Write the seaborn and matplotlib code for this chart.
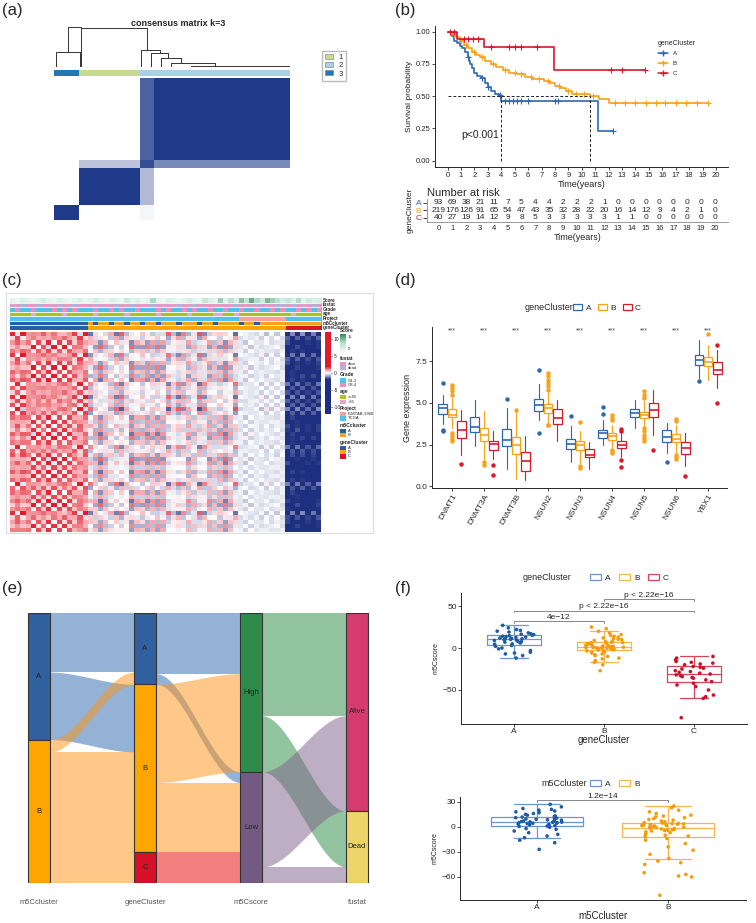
import numpy as np
import pandas as pd
import matplotlib
matplotlib.use('Agg')
import matplotlib.pyplot as plt
import seaborn as sns
from matplotlib.colors import LinearSegmentedColormap, ListedColormap, to_rgb
from matplotlib.patches import Patch, Rectangle
from matplotlib.lines import Line2D

# ---------------- (a) consensus matrix k=3 ----------------
# column order: cluster 3, cluster 1, mixed samples, cluster 2
cons_sizes = [38, 90, 21, 203]
cons_col_groups = [3, 1, 2, 2]
# rows listed top to bottom: cluster 2, mixed, cluster 1, cluster 3
cons_blocks = [
    [0.00, 0.00, 0.80, 1.00],
    [0.00, 0.30, 0.90, 0.60],
    [0.00, 1.00, 0.35, 0.00],
    [1.00, 0.00, 0.05, 0.00],
]
# dendrogram links: (x left, h left, x right, h right, merge height), x in samples
dendro_links = [
    (2.5, 0.0, 38.3, 0.0, 0.37),
    (205, 0.0, 352, 0.0, 0.02),
    (175, 0.0, 240, 0.02, 0.10),
    (160, 0.0, 190, 0.10, 0.21),
    (145, 0.0, 170, 0.21, 0.35),
    (130.5, 0.0, 158, 0.35, 0.42),
    (40.8, 0.0, 138, 0.42, 0.96),
    (20.4, 0.37, 40.8, 0.96, 1.00),
]

# ---------------- (b) Kaplan-Meier ----------------
km_time = {
    'A': [0, 0.3, 0.5, 0.7, 0.9, 1.1, 1.3, 1.5, 1.6, 1.7, 1.8, 2.0, 2.2, 2.5, 2.8, 3.0, 3.2, 3.5, 3.8, 4.0, 11.2, 12.3],
    'B': [0, 0.3, 0.6, 0.9, 1.2, 1.5, 1.8, 2.1, 2.4, 2.8, 3.2, 3.6, 4.1, 4.6, 5.2, 5.8, 6.3, 7.2, 7.6, 8.0, 8.4, 8.8, 9.3, 10.6, 11.3, 12.0, 19.4],
    'C': [0, 0.7, 2.7, 7.9, 14.7],
}
km_surv = {
    'A': [1.0, 0.97, 0.93, 0.91, 0.89, 0.87, 0.84, 0.80, 0.77, 0.75, 0.72, 0.68, 0.66, 0.64, 0.60, 0.57, 0.54, 0.52, 0.51, 0.465, 0.232, 0.232],
    'B': [1.0, 0.98, 0.96, 0.93, 0.90, 0.87, 0.84, 0.82, 0.80, 0.77, 0.75, 0.73, 0.70, 0.68, 0.67, 0.65, 0.63, 0.62, 0.60, 0.58, 0.56, 0.54, 0.52, 0.50, 0.48, 0.45, 0.45],
    'C': [1.0, 0.94, 0.88, 0.705, 0.705],
}
km_censor = {
    'A': [1.5, 2.6, 3.0, 3.9, 4.3, 4.6, 4.9, 5.2, 5.5, 6.0, 8.0, 8.2, 12.3],
    'B': [0.5, 1.0, 1.4, 2.0, 2.6, 3.4, 4.3, 5.0, 5.5, 6.2, 6.8, 7.5, 8.3, 9.0, 9.6, 10.2, 10.8,
          12.5, 13.2, 14.0, 14.8, 15.5, 16.2, 17.0, 17.8, 18.6, 19.4],
    'C': [0.2, 0.5, 1.2, 1.5, 1.9, 2.3, 3.2, 4.6, 5.0, 5.5, 6.7, 12.2, 13.0, 14.7],
}
risk_A = [93, 69, 38, 21, 11, 7, 5, 4, 4, 2, 2, 2, 1, 0, 0, 0, 0, 0, 0, 0, 0]
risk_B = [219, 176, 126, 91, 65, 54, 47, 43, 35, 32, 28, 22, 20, 16, 14, 12, 9, 4, 2, 1, 0]
risk_C = [40, 27, 19, 14, 12, 9, 8, 5, 3, 3, 3, 3, 3, 1, 1, 0, 0, 0, 0, 0, 0]

# ---------------- (c) expression heatmap ----------------
# 60 sample columns: geneCluster A 0-14, B 15-52 (pale part 44-52), C 53-59
seg_sizes = [15, 29, 9, 7]
seg_level = [0.9, 0.0, -0.2, -2.0]
seg_amp = [1.6, 1.7, 0.5, 1.2]
col_prof = [0.8, -0.6, 1.0, 0.3, -0.9, 0.7, -0.2, 0.9, -0.7, 0.5, -1.0, 0.6, 0.2, -0.8, 0.9,
            -0.5, 0.8, -0.9, 0.4, 0.7, -0.6, 1.0, -0.3, -0.8, 0.6, 0.9, -0.7, 0.3, -1.0, 0.5,
            0.8, -0.4, -0.9, 0.7, 0.2, -0.6, 1.0, -0.8, 0.4, -0.3, 0.9, -0.7, 0.6, -0.9,
            0.5, -0.8, 0.7, -0.4, 0.9, -0.6, 0.3, -0.9, 0.6,
            -0.7, 0.9, -1.0, 0.8, -0.5, 0.6, -0.8]
row_prof = [0.9, -0.7, 0.4, -1.0, 0.6, 0.8, -0.5, 0.3, -0.9, 0.7,
            -0.4, 1.0, -0.8, 0.5, -0.6, 0.9, -0.3, 0.7, -1.0, 0.4,
            0.8, -0.6, 0.2, -0.9, 1.0, -0.5, 0.6, -0.7, 0.3, 0.9,
            -0.8, 0.5, -0.4, 1.0, -0.6, 0.7, -0.9, 0.2, 0.8, -0.5,
            0.6, -1.0, 0.4, 0.9, -0.7, 0.3, -0.8, 0.6]
ann_score = [2, 1, 3, 2, 1, 2, 4, 2, 1, 3, 2, 1, 2, 3, 1,
             2, 4, 2, 1, 3, 2, 1, 5, 2, 3, 1, 2, 8, 2, 1, 3, 2, 1, 2, 4, 2, 1, 6, 3, 2, 9, 2, 7, 3,
             10, 6, 12, 8, 5, 11, 9, 7, 4,
             6, 3, 8, 2, 5, 3, 4]
ann_fustat = "lldlldllld lldllldlll dlldllldll lldlldllll llldllldll lddldllldl"
ann_grade = "1311311131 3131113113 1311311131 3113131131 1311311311 3131131313"
ann_age = "yyyyoyyyyy oyyyyyoyyy yyoyyyyyoy yyyyoyyyyo oyyoyyyyyy yyyyoyyyyy"
ann_project = "tttttttttt tttttttttt tttttttttt tttttttttt ttttEEEEEE EEEttttttt"
ann_m5c = "aaaaaaaaaa aaaaababba bbabbabbab bbabbbabba bbbbabbabb bbbbbbbbbb"
ann_gene = "AAAAAAAAAA AAAAABBBBB BBBBBBBBBB BBBBBBBBBB BBBBBBBBBB BBBCCCCCCC"

# ---------------- (d) m5C regulator expression ----------------
genes = ['DNMT1', 'DNMT3A', 'DNMT3B', 'NSUN2', 'NSUN3', 'NSUN4', 'NSUN5', 'NSUN6', 'YBX1']
expr_med = {'A': [4.67, 3.58, 2.80, 4.90, 2.55, 3.20, 4.42, 2.95, 7.60],
            'B': [4.30, 3.05, 2.45, 4.72, 2.45, 3.00, 4.25, 2.85, 7.45],
            'C': [3.40, 2.55, 1.50, 4.12, 1.90, 2.50, 4.60, 2.30, 7.00]}
expr_q1 = {'A': [4.34, 3.26, 2.43, 4.54, 2.25, 2.92, 4.14, 2.65, 7.26],
           'B': [4.18, 2.73, 1.95, 4.42, 2.15, 2.78, 4.08, 2.63, 7.20],
           'C': [2.88, 2.15, 0.90, 3.72, 1.73, 2.29, 4.14, 1.95, 6.76]}
expr_q3 = {'A': [4.91, 4.18, 3.42, 5.23, 2.85, 3.38, 4.64, 3.38, 7.90],
           'B': [4.61, 3.48, 2.98, 4.91, 2.73, 3.18, 4.48, 3.14, 7.76],
           'C': [3.92, 2.69, 2.03, 4.61, 2.25, 2.69, 4.97, 2.63, 7.46]}
expr_lo = {'A': [3.74, 2.40, 1.05, 4.00, 1.45, 2.45, 3.50, 2.00, 6.50],
           'B': [3.50, 1.60, 0.45, 3.80, 1.40, 2.30, 3.60, 2.00, 6.40],
           'C': [1.85, 1.65, 0.35, 2.70, 1.05, 1.75, 3.05, 1.20, 5.90]}
expr_hi = {'A': [5.47, 5.15, 4.70, 6.15, 3.60, 4.00, 5.15, 3.80, 8.75],
           'B': [5.30, 4.50, 4.50, 5.60, 3.30, 3.70, 5.10, 3.70, 8.45],
           'C': [4.60, 3.30, 3.00, 5.20, 2.65, 3.20, 5.75, 3.20, 8.15]}
expr_fliers = {
    'A': [[6.2, 3.4, 3.3], [], [5.25], [6.95, 3.2], [4.2], [4.75, 4.35], [], [1.45], [6.3]],
    'B': [[6.05, 5.9, 5.7, 5.5, 3.2, 3.0, 2.85, 2.7], [1.45, 1.3], [4.6],
          [6.8, 6.6, 6.4, 6.2, 6.0, 5.8, 3.7, 3.65], [3.85, 1.2, 1.1], [4.25, 4.1, 3.95, 2.2, 2.1, 2.0],
          [5.7, 5.5, 5.3, 3.5, 3.3, 3.1, 2.9, 2.7], [4.05, 3.9, 1.9, 1.75, 1.65], [9.15]],
    'C': [[1.35], [1.3, 0.7], [], [], [], [3.45, 3.3, 1.55, 1.15], [2.15], [0.6], [8.5, 5.0]],
}

# ---------------- (e) alluvial counts ----------------
m5c_levels = ['A', 'B']
gene_levels = ['A', 'B', 'C']
score_levels = ['High', 'Low']
fustat_levels = ['Alive', 'Dead']
flow_m5c_gene = [[77, 88, 0], [16, 131, 40]]
flow_gene_score = [[79, 14], [128, 91], [0, 40]]
flow_score_fustat = [[134, 73], [124, 21]]

# ---------------- (f) m5Cscore ----------------
score_geneA = [-12, -9, -7, -6, -5, -3, -1, 0, 2, 3, 4.5, 5, 6, 7, 7.5, 8, 9, 9.5, 10, 10.3,
               10.8, 11, 11.5, 12, 12.5, 13, 13.5, 14, 14.5, 15.2, 16, 16.5, 17, 18, 19, 20, 21, 22, 24, 27]
score_geneB = [-27, -20, -17, -15, -13, -12, -10, -9, -8, -7, -6, -5, -4.5, -3.5, -3,
               -2.5, -2, -1.8, -1.5, -1, -0.8, -0.5, -0.2, 0, 0.2, 0.4, 0.6, 0.8, 1.0, 1.1,
               1.3, 1.6, 2, 2.4, 2.8, 3.2, 3.6, 4, 4.5, 5, 5.4, 5.8, 6.2, 6.5, 6.8,
               7.5, 8, 9, 10, 10.5, 11, 12, 13, 14, 15, 16, 18, 20, 23, 25]
score_geneC = [-83, -60, -58, -56, -50, -46, -44, -42, -40, -38, -36, -35, -34, -33, -32, -31,
               -30, -29, -28, -27, -25, -24, -23, -22, -20, -19, -18, -17, -16, -14, -12, -10]
score_m5cA = [-27, -19, -16, -13, -11, -9, -7, -5, -3, -2, -0.5, 0.5,
              1, 1.5, 2, 2.5, 3, 3.5, 4, 4.3, 4.6, 5, 5.2, 5.5, 5.7,
              6, 6.5, 7, 7.5, 8, 8.5, 9, 9.5, 10, 10.5, 11, 11.8, 12.5,
              13, 14, 15, 16, 17, 18, 19, 20, 21, 22, 24, 27]
score_m5cB = [-82, -60, -59, -57, -55, -45, -43, -41, -38, -33, -28, -24, -20, -16, -14,
              -12, -11, -10, -9, -8, -7, -6, -5, -4.5, -4, -3.5, -3, -2.5, -2, -1.5,
              -1, -0.5, 0, 0.5, 1, 1.3, 1.6, 2, 2.4, 2.8, 3.2, 3.6, 4, 4.2, 4.5,
              5, 6, 7, 8, 9, 10, 11, 12, 13, 14, 16, 18, 20, 23, 25]

# ---------------- styling ----------------
W, H = 756, 923
sns.set_theme(style='ticks')
plt.rcParams['font.family'] = ['Liberation Sans', 'DejaVu Sans']
plt.rcParams['axes.linewidth'] = 0.7
plt.rcParams['xtick.major.width'] = 0.6
plt.rcParams['ytick.major.width'] = 0.6
plt.rcParams['xtick.major.size'] = 2
plt.rcParams['ytick.major.size'] = 2

clu_col = {'A': '#2E67B1', 'B': '#F8A21B', 'C': '#D7192B'}


def fbox(l, t, r, b):
    # pixel box -> figure fraction rect
    return [l / W, 1 - b / H, (r - l) / W, (b - t) / H]


def fy(y):
    return 1 - y / H


fig = plt.figure(figsize=(W / 100, H / 100), dpi=100)
for lab, x, y in [('(a)', 2, 11), ('(b)', 395, 11), ('(c)', 2, 281), ('(d)', 395, 281),
                  ('(e)', 2, 588), ('(f)', 395, 588)]:
    fig.text(x / W, fy(y), lab, fontsize=12, va='center', ha='left')

# ================= (a) =================
cons_cmap = LinearSegmentedColormap.from_list('cons', ['#FFFFFF', '#1F3A88'])
ax = fig.add_axes(fbox(54, 78, 290, 220))
mat = np.repeat(np.repeat(np.array(cons_blocks), cons_sizes[::-1], axis=0), cons_sizes, axis=1)
sns.heatmap(mat, ax=ax, cmap=cons_cmap, vmin=0, vmax=1, cbar=False,
            xticklabels=False, yticklabels=False, rasterized=True)

k_colors = ['#C6DB8E', '#A9D0E6', '#1F78B4']
ax = fig.add_axes(fbox(54, 70, 290, 76))
groups = np.repeat(cons_col_groups, cons_sizes)[None, :]
sns.heatmap(groups, ax=ax, cmap=ListedColormap(k_colors), vmin=0.5, vmax=3.5, cbar=False,
            xticklabels=False, yticklabels=False)

ax = fig.add_axes(fbox(54, 26.7, 290, 66.7))
for xl, hl, xr, hr, h in dendro_links:
    ax.plot([xl, xl, xr, xr], [hl, h, h, hr], color='#333333', lw=0.7)
ax.set_xlim(0, sum(cons_sizes))
ax.set_ylim(0, 1.0)
ax.axis('off')
fig.text(178 / W, fy(24), 'consensus matrix k=3', fontsize=6.5, fontweight='bold',
         ha='center', va='center')
fig.legend([Patch(facecolor=c, edgecolor='#777777', lw=0.4) for c in k_colors], ['1', '2', '3'],
           loc='upper left', bbox_to_anchor=(318 / W, fy(47)), fontsize=5.5, frameon=True,
           fancybox=False, edgecolor='#AAAAAA', handlelength=1.0, handleheight=0.6,
           labelspacing=0.15, borderpad=0.4, handletextpad=0.8)

# ================= (b) =================
ax = fig.add_axes(fbox(435, 26, 728, 167))
med_times = []
for cl in ['A', 'B', 'C']:
    t = np.array(km_time[cl])
    s = np.array(km_surv[cl])
    ax.step(t, s, where='post', color=clu_col[cl], lw=1.2)
    ct = np.array(km_censor[cl])
    cs = s[np.searchsorted(t, ct, side='right') - 1]
    ax.plot(ct, cs, ls='none', marker='+', ms=4, mew=0.8, color=clu_col[cl])
    if (s <= 0.5).any():
        med_times.append(t[np.argmax(s <= 0.5)])
ax.plot([0, max(med_times)], [0.5, 0.5], ls=(0, (3, 2)), color='#222222', lw=0.7)
for mt in med_times:
    ax.plot([mt, mt], [0, 0.5], ls=(0, (3, 2)), color='#222222', lw=0.7)
ax.text(1.0, 0.2, 'p<0.001', fontsize=7.5, va='center')
ax.set_xlim(-0.94, 20.9)
ax.set_ylim(-0.049, 1.044)
ax.set_xticks(range(0, 21))
ax.set_yticks([0, 0.25, 0.5, 0.75, 1.0])
ax.set_yticklabels(['0.00', '0.25', '0.50', '0.75', '1.00'])
ax.tick_params(labelsize=5.5, pad=1.5)
ax.set_xlabel('Time(years)', fontsize=6.5, labelpad=1)
ax.set_ylabel('Survival probability', fontsize=6, labelpad=2)
sns.despine(ax=ax)
handles = [Line2D([], [], color=clu_col[c], marker='+', ms=4, lw=1.1) for c in 'ABC']
leg = ax.legend(handles, ['A', 'B', 'C'], title='geneCluster', loc='upper left',
                bbox_to_anchor=(652 / W, fy(34)), bbox_transform=fig.transFigure,
                fontsize=4.5, title_fontsize=5, frameon=False, handlelength=1.6,
                labelspacing=0.7, alignment='left')

ax = fig.add_axes(fbox(427, 199, 728, 222))
for row, vals in enumerate([risk_A, risk_B, risk_C]):
    for t, n in enumerate(vals):
        ax.text(t, row, str(n), ha='center', va='center', fontsize=6)
ax.set_xlim(-0.85, 20.97)
ax.set_ylim(2.55, -0.5)
ax.set_yticks([0, 1, 2])
ax.set_yticklabels(['A', 'B', 'C'])
for tl, c in zip(ax.get_yticklabels(), 'ABC'):
    tl.set_color(clu_col[c])
ax.set_xticks(range(0, 21))
ax.tick_params(axis='x', labelsize=5.5, length=0, pad=2)
ax.tick_params(axis='y', labelsize=6, length=3, pad=1)
ax.set_xlabel('Time(years)', fontsize=6.5, labelpad=1)
ax.set_ylabel('geneCluster', fontsize=6, labelpad=1)
for sp in ['top', 'right']:
    ax.spines[sp].set_visible(False)
for sp in ['left', 'bottom']:
    ax.spines[sp].set_color('#999999')
fig.text(427 / W, fy(193), 'Number at risk', fontsize=8, va='center')

# ================= (c) =================
frame = fig.add_axes(fbox(6, 293, 373, 533))
frame.set_xticks([])
frame.set_yticks([])
for sp in frame.spines.values():
    sp.set_color('#DDDDDD')
    sp.set_linewidth(0.8)
frame.set_zorder(-5)

heat_cmap = LinearSegmentedColormap.from_list(
    'heat', [(0, '#1E2F7F'), (0.42, '#1E2F7F'), (0.5, '#FFFFFF'), (0.58, '#E31A2B'), (1, '#E31A2B')])
col_level = np.repeat(seg_level, seg_sizes)
col_amp = np.repeat(seg_amp, seg_sizes)
texture = 0.5 * (np.outer(row_prof, col_prof)
                 + np.outer(np.roll(row_prof, 7), np.roll(col_prof, 13)))
heat = col_level[None, :] + col_amp[None, :] * texture
ax = fig.add_axes(fbox(10, 332, 321, 532))
cax = fig.add_axes(fbox(325, 332, 331, 414))
sns.heatmap(heat, ax=ax, cmap=heat_cmap, vmin=-12, vmax=12, cbar_ax=cax,
            cbar_kws={'ticks': [10, 5, 0, -5, -10]}, xticklabels=False, yticklabels=False)
cax.tick_params(labelsize=3.5, length=1, pad=1)
cax.set_yticklabels(['10', '5', '0', '-5', '-10'])
for sp in cax.spines.values():
    sp.set_visible(False)

ann_colors = {
    'l': '#E59AC6', 'd': '#B8B0DA',
    '1': '#52C1E9', '3': '#EE8DBB',
    'y': '#A8C41E', 'o': '#E6A5D2',
    't': '#4FC1EA', 'E': '#F4A29A',
    'a': '#2A5DA8', 'b': '#F8A21B',
    'A': '#2A5DA8', 'B': '#FFA500', 'C': '#D7191C',
}
score_cmap = LinearSegmentedColormap.from_list('score', ['#F2FBF8', '#B9E2CF', '#2E8B57'])
ann_rows = [ann_fustat, ann_grade, ann_age, ann_project, ann_m5c, ann_gene]
rgb = np.zeros((7, 60, 3))
rgb[0] = np.array(score_cmap(np.array(ann_score) / 15.0))[:, :3]
for i, s in enumerate(ann_rows):
    rgb[i + 1] = [to_rgb(ann_colors[ch]) for ch in s.replace(' ', '')]
ax = fig.add_axes(fbox(10, 298, 321, 330))
ax.imshow(rgb, aspect='auto', interpolation='nearest')
for i in range(6):
    ax.axhline(i + 0.5, color='white', lw=0.6)
ax.set_xticks([])
ax.set_yticks([])
for sp in ax.spines.values():
    sp.set_visible(False)
for i, name in enumerate(['Score', 'fustat', 'Grade', 'age', 'Project', 'm5Ccluster', 'geneCluster']):
    ax.text(1.006, 1 - (i + 0.5) / 7, name, transform=ax.transAxes, fontsize=3.3,
            fontweight='bold', va='center', ha='left')

# annotation legends
lax = fig.add_axes(fbox(336, 326, 376, 470))
lax.set_xlim(336, 376)
lax.set_ylim(470, 326)
lax.axis('off')
lax.text(340, 331, 'Score', fontsize=3.5, fontweight='bold', va='center')
grad = np.linspace(1, 0, 50)[:, None]
lax.imshow(score_cmap(grad), extent=(340, 346, 352, 334), aspect='auto')
lax.text(348, 337, '15', fontsize=3, va='center')
lax.text(348, 349, '0', fontsize=3, va='center')
c_legends = [('fustat', ['alive', 'dead'], 'ld'), ('Grade', ['G1-2', 'G3-4'], '13'),
             ('age', ['<=65', '>65'], 'yo'), ('Project', ['E-MTAB-1980', 'TCGA'], 'Et'),
             ('m5Ccluster', ['A', 'B'], 'ab'), ('geneCluster', ['A', 'B', 'C'], 'ABC')]
y = 358
for title, labels, keys in c_legends:
    lax.text(340, y, title, fontsize=3.5, fontweight='bold', va='center')
    y += 3.5
    for lab, k in zip(labels, keys):
        lax.add_patch(Rectangle((340, y), 6, 4.2, facecolor=ann_colors[k], edgecolor='none'))
        lax.text(348, y + 2.1, lab, fontsize=3, va='center')
        y += 4.2
    y += 5

# ================= (d) =================
ax = fig.add_axes(fbox(432, 327, 727, 488))
offsets = {'A': -0.29, 'B': 0.0, 'C': 0.29}
for cl in ['A', 'B', 'C']:
    stats = []
    for i in range(len(genes)):
        stats.append({'med': expr_med[cl][i], 'q1': expr_q1[cl][i], 'q3': expr_q3[cl][i],
                      'whislo': expr_lo[cl][i], 'whishi': expr_hi[cl][i],
                      'fliers': expr_fliers[cl][i]})
    c = clu_col[cl]
    ax.bxp(stats, positions=np.arange(len(genes)) + offsets[cl], widths=0.27,
           patch_artist=True, manage_ticks=False,
           boxprops=dict(facecolor='white', edgecolor=c, lw=0.9),
           medianprops=dict(color=c, lw=1.2), whiskerprops=dict(color=c, lw=0.8),
           capprops=dict(lw=0), flierprops=dict(marker='o', ms=2.2, mfc=c, mec=c))
for i in range(len(genes)):
    ax.text(i, 9.3, '***', ha='center', va='center', fontsize=5, color='#444444')
ax.set_xlim(-0.625, 8.59)
ax.set_ylim(-0.1, 9.55)
ax.set_xticks(range(len(genes)))
ax.set_xticklabels(genes, rotation=60, ha='right', rotation_mode='anchor', fontsize=6)
ax.set_yticks([0, 2.5, 5.0, 7.5])
ax.set_yticklabels(['0.0', '2.5', '5.0', '7.5'])
ax.tick_params(labelsize=6, pad=1.5)
ax.tick_params(axis='x', labelsize=6)
ax.set_ylabel('Gene expression', fontsize=6.5, labelpad=2)
sns.despine(ax=ax)
fig.text(525 / W, fy(308), 'geneCluster', fontsize=6.5, va='center')
fig.legend([Patch(facecolor='white', edgecolor=clu_col[c], lw=0.9) for c in 'ABC'], ['A', 'B', 'C'],
           loc='center left', bbox_to_anchor=(573 / W, fy(308)), ncol=3, frameon=False, fontsize=6,
           handlelength=1.1, handleheight=0.8, handletextpad=0.4, columnspacing=0.8,
           borderaxespad=0, borderpad=0)

# ================= (e) =================
ax = fig.add_axes(fbox(20, 613, 376, 883))
total = sum(map(sum, flow_m5c_gene))
ax.set_xlim(-19 / 106, 3 + 19 / 106)
ax.set_ylim(total, 0)
ax.axis('off')
bw = 0.21
strata = [
    (m5c_levels, np.sum(flow_m5c_gene, axis=1), ['#30609E', '#FFA500']),
    (gene_levels, np.sum(flow_m5c_gene, axis=0), ['#30609E', '#FFA500', '#D7102A']),
    (score_levels, np.sum(flow_gene_score, axis=0), ['#2E8B4A', '#735A82']),
    (fustat_levels, np.sum(flow_score_fustat, axis=0), ['#D63B6F', '#EDD46A']),
]
flow_src_colors = [['#2866AE', '#FF9315'], ['#2866AE', '#FF9315', '#E90000'], ['#278D41', '#7F5F89']]
flows = [flow_m5c_gene, flow_gene_score, flow_score_fustat]
tt = np.linspace(0, 1, 60)
ss = 3 * tt ** 2 - 2 * tt ** 3
for k, F in enumerate(flows):
    F = np.array(F)
    src_start = np.concatenate([[0], np.cumsum(F.sum(axis=1))[:-1]])
    dst_start = np.concatenate([[0], np.cumsum(F.sum(axis=0))[:-1]])
    src_off = src_start.astype(float).copy()
    dst_off = dst_start.astype(float).copy()
    x0, x1 = k + bw / 2, k + 1 - bw / 2
    for i in range(F.shape[0]):
        for j in range(F.shape[1]):
            n = F[i, j]
            if n == 0:
                continue
            top = src_off[i] + (dst_off[j] - src_off[i]) * ss
            ax.fill_between(x0 + (x1 - x0) * tt, top, top + n, color=flow_src_colors[k][i],
                            alpha=0.5, lw=0)
            src_off[i] += n
            dst_off[j] += n
for k, (levels, counts, cols) in enumerate(strata):
    bottoms = np.concatenate([[0], np.cumsum(counts)[:-1]])
    ax.bar([k] * len(levels), counts, bottom=bottoms, width=bw, color=cols,
           edgecolor='#333333', lw=0.8, zorder=3)
    for lab, b, n in zip(levels, bottoms, counts):
        ax.text(k, b + n / 2, lab, ha='center', va='center', fontsize=5.5, color='#222222', zorder=4)
for k, name in enumerate(['m5Ccluster', 'geneCluster', 'm5Cscore', 'fustat']):
    fig.text((39 + 106 * k) / W, fy(903), name, ha='center', va='center', fontsize=5.5,
             color='#555555')

# ================= (f) =================
np.random.seed(3)
box_pal = {'A': '#6B97CF', 'B': '#F6B551', 'C': '#D64555'}
pt_pal = {'A': '#1F5AA6', 'B': '#F59B0C', 'C': '#D10E24'}


def score_panel(rect, values, levels, width, jitter, ylim, xlim, yticks, xlabel, brackets):
    df = pd.DataFrame({'cluster': np.repeat(levels, [len(v) for v in values]),
                       'score': np.concatenate(values)})
    ax = fig.add_axes(rect)
    sns.boxplot(data=df, x='cluster', y='score', hue='cluster', order=levels, hue_order=levels,
                palette=box_pal, fill=False, width=width, showfliers=False, linewidth=0.9,
                legend=False, ax=ax)
    sns.stripplot(data=df, x='cluster', y='score', hue='cluster', order=levels, hue_order=levels,
                  palette=pt_pal, jitter=jitter, size=2.6, legend=False, ax=ax, zorder=3)
    for x1, x2, yb, lab in brackets:
        ax.plot([x1, x1, x2, x2], [yb - 2, yb, yb, yb - 2], color='#888888', lw=0.7)
        ax.text((x1 + x2) / 2, yb + 0.5, lab, ha='center', va='bottom', fontsize=6)
    ax.set_xlim(*xlim)
    ax.set_ylim(*ylim)
    ax.set_yticks(yticks)
    ax.set_yticklabels([str(v).replace('-', '\u2212') for v in yticks])
    ax.tick_params(labelsize=6, pad=1)
    ax.set_xlabel(xlabel, fontsize=7, labelpad=0)
    ax.set_ylabel('m5Cscore', fontsize=5, labelpad=2)
    sns.despine(ax=ax)
    return ax


score_panel(fbox(461, 593, 747, 724), [score_geneA, score_geneB, score_geneC], ['A', 'B', 'C'],
            0.61, 0.23, (-90.5, 65.5), (-0.59, 2.59), [50, 0, -50], 'geneCluster',
            [(0, 1, 32, '4e\u221212'), (0, 2, 44.5, 'p < 2.22e\u221216'), (1, 2, 58, 'p < 2.22e\u221216')])
fig.text(523 / W, fy(578), 'geneCluster', fontsize=6.5, va='center')
fig.legend([Patch(facecolor='white', edgecolor=box_pal[c], lw=0.9) for c in 'ABC'], ['A', 'B', 'C'],
           loc='center left', bbox_to_anchor=(590 / W, fy(578)), ncol=3, frameon=False, fontsize=6,
           handlelength=1.3, handleheight=0.8, handletextpad=0.5, columnspacing=1.0,
           borderaxespad=0, borderpad=0)

score_panel(fbox(460, 797, 746, 900), [score_m5cA, score_m5cB], ['A', 'B'],
            0.7, 0.2, (-87.7, 35.8), (-0.588, 1.595), [30, 0, -30, -60], 'm5Ccluster',
            [(0, 1, 32, '1.2e\u221214')])
fig.text(541 / W, fy(784), 'm5Ccluster', fontsize=6.5, va='center')
fig.legend([Patch(facecolor='white', edgecolor=box_pal[c], lw=0.9) for c in 'AB'], ['A', 'B'],
           loc='center left', bbox_to_anchor=(590 / W, fy(784)), ncol=2, frameon=False, fontsize=6,
           handlelength=1.3, handleheight=0.8, handletextpad=0.5, columnspacing=1.0,
           borderaxespad=0, borderpad=0)

fig.savefig('out.png', dpi=100)
